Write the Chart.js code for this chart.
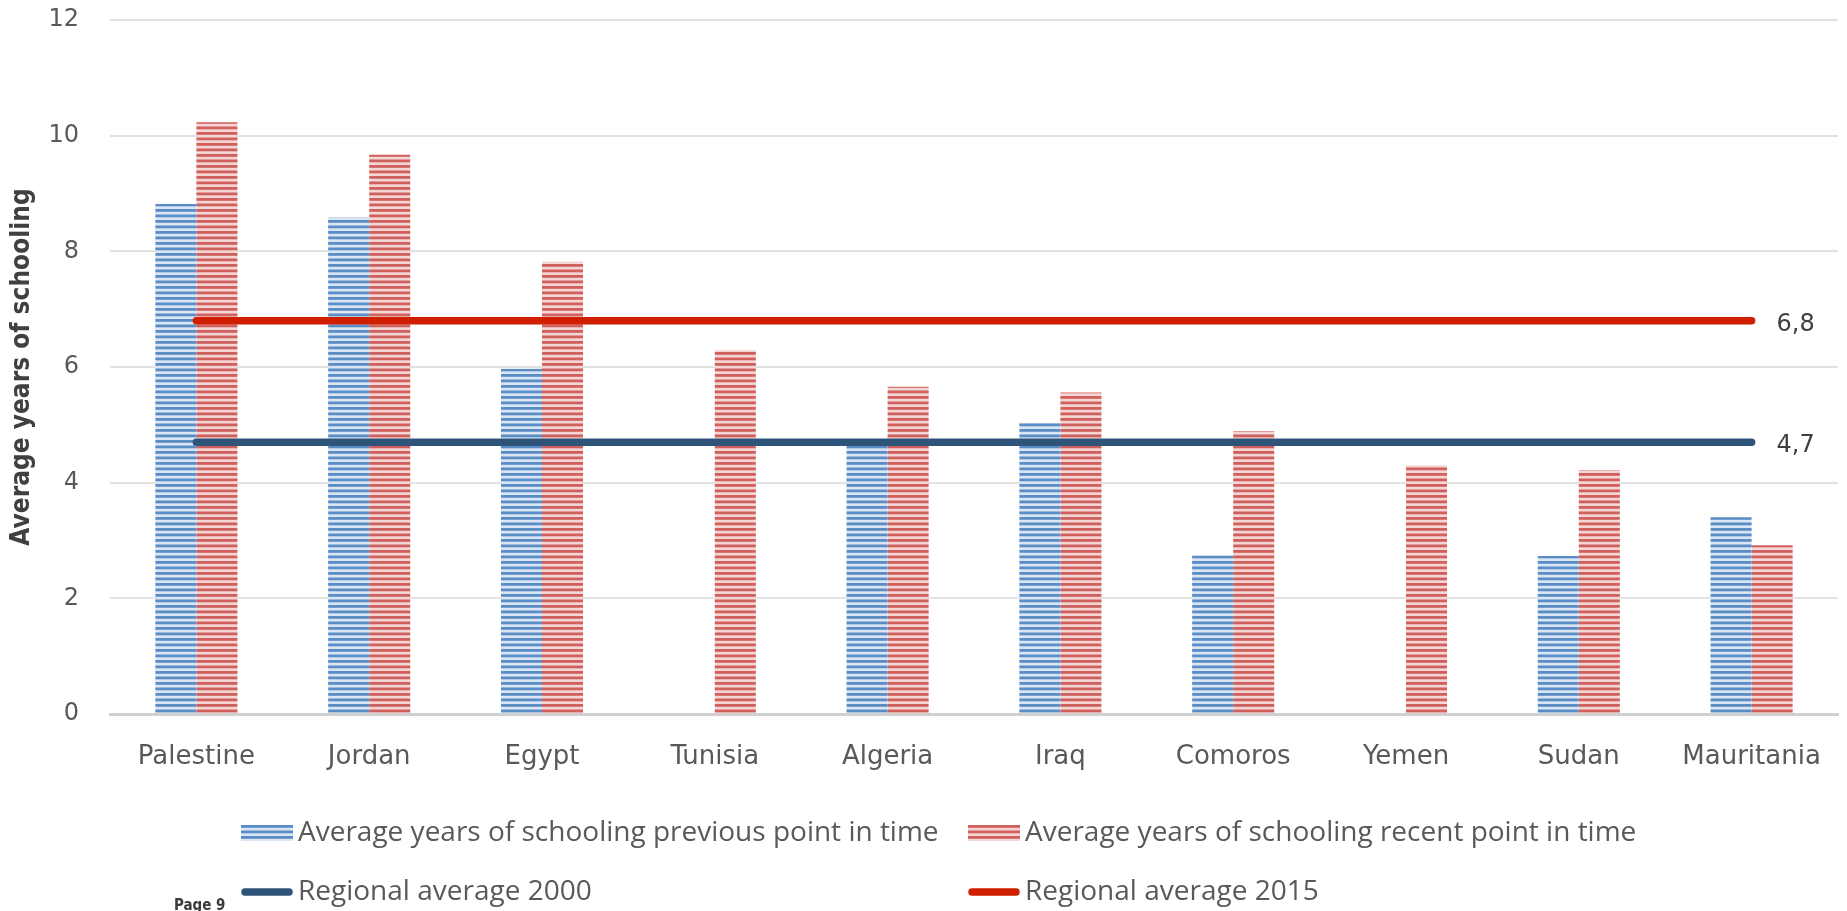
<!DOCTYPE html>
<html>
<head>
<meta charset="utf-8">
<script src="https://cdn.jsdelivr.net/npm/chart.js@4.4.1/dist/chart.umd.min.js"></script>
<style>
  html, body { margin: 0; padding: 0; background: #ffffff; overflow: hidden; }
  #wrap { width: 1847px; height: 911px; position: relative; }
</style>
</head>
<body>
<div id="wrap"><canvas id="chart" width="1847" height="911"></canvas></div>
<script>
// Average years of schooling, by country
const countries = ['Palestine', 'Jordan', 'Egypt', 'Tunisia', 'Algeria', 'Iraq', 'Comoros', 'Yemen', 'Sudan', 'Mauritania'];
const schoolingPrevious = [8.82, 8.59, 5.97, null, 4.74, 5.03, 2.74, null, 2.73, 3.40];
const schoolingRecent   = [10.23, 9.67, 7.82, 6.29, 5.66, 5.56, 4.89, 4.30, 4.22, 2.92];
const regionalAverage2000 = [4.7, 4.7, 4.7, 4.7, 4.7, 4.7, 4.7, 4.7, 4.7, 4.7];
const regionalAverage2015 = [6.8, 6.8, 6.8, 6.8, 6.8, 6.8, 6.8, 6.8, 6.8, 6.8];
const yTickValues = [0, 2, 4, 6, 8, 10, 12];

const seriesNames = [
  'Average years of schooling previous point in time',
  'Average years of schooling recent point in time',
  'Regional average 2000',
  'Regional average 2015'
];

const canvas = document.getElementById('chart');
const ctx = canvas.getContext('2d');

// narrow horizontal stripe fill used by the bars
function stripePattern(dark, light) {
  const tile = document.createElement('canvas');
  tile.width = 4; tile.height = 11;
  const g = tile.getContext('2d');
  g.fillStyle = light;
  g.fillRect(0, 0, 4, 11);
  g.fillStyle = dark;
  g.fillRect(0, 0, 4, 2.8);
  g.fillRect(0, 5.5, 4, 2.8);
  return ctx.createPattern(tile, 'repeat');
}
const bluePattern = stripePattern('#5a8dc6', '#dae6f3');
const redPattern = stripePattern('#cf605d', '#f4d6d4');

const lineBlue = '#2f5479';
const lineRed = '#cf1f00';

const TEXT_FONT = "'DejaVu Sans', sans-serif";
const LEGEND_FONT = "'Open Sans', Lato, sans-serif";
const NARROW_BOLD = "'Liberation Sans Narrow', 'DejaVu Sans Condensed', sans-serif";

// legend laid out as a two-column grid below the plot
const legendPlugin = {
  id: 'gridLegend',
  afterDraw(chart) {
    const c = chart.ctx;
    const cols = [241, 968];
    const rows = [833, 892];
    chart.data.datasets.forEach((ds, i) => {
      const x = cols[i % 2];
      const y = rows[Math.floor(i / 2)];
      c.save();
      if (ds.type === 'line') {
        c.strokeStyle = ds.borderColor;
        c.lineWidth = 7.5;
        c.lineCap = 'round';
        c.beginPath();
        c.moveTo(x + 4, y);
        c.lineTo(x + 48, y);
        c.stroke();
      } else {
        c.fillStyle = ds.backgroundColor;
        c.fillRect(x, y - 8, 52, 16);
      }
      c.fillStyle = '#595959';
      c.font = '28px ' + LEGEND_FONT;
      c.textAlign = 'left';
      c.textBaseline = 'middle';
      c.fillText(ds.label, x + 57, y);
      c.restore();
    });
    // page marker in the lower left corner
    c.save();
    c.fillStyle = '#3a3a3a';
    c.font = 'bold 15px ' + NARROW_BOLD;
    c.textAlign = 'left';
    c.textBaseline = 'alphabetic';
    c.fillText('Page 9', 174, 910);
    c.restore();
  }
};

// value label at the end of each regional average line
const endLabelPlugin = {
  id: 'endLabels',
  afterDatasetsDraw(chart) {
    const c = chart.ctx;
    chart.data.datasets.forEach((ds, i) => {
      if (ds.type !== 'line') return;
      const meta = chart.getDatasetMeta(i);
      const last = meta.data[meta.data.length - 1];
      const v = ds.data[ds.data.length - 1];
      c.save();
      c.fillStyle = '#404040';
      c.font = '24px ' + TEXT_FONT;
      c.textAlign = 'left';
      c.textBaseline = 'middle';
      c.fillText(v.toFixed(1).replace('.', ','), last.x + 25, last.y + 4);
      c.restore();
    });
  }
};

new Chart(ctx, {
  type: 'bar',
  data: {
    labels: countries,
    datasets: [
      {
        type: 'bar',
        label: seriesNames[0],
        data: schoolingPrevious,
        backgroundColor: bluePattern,
        borderWidth: 0,
        categoryPercentage: 0.475,
        barPercentage: 1.0,
        order: 2
      },
      {
        type: 'bar',
        label: seriesNames[1],
        data: schoolingRecent,
        backgroundColor: redPattern,
        borderWidth: 0,
        categoryPercentage: 0.475,
        barPercentage: 1.0,
        order: 2
      },
      {
        type: 'line',
        label: seriesNames[2],
        data: regionalAverage2000,
        borderColor: lineBlue,
        backgroundColor: lineBlue,
        borderWidth: 7.5,
        borderCapStyle: 'round',
        pointRadius: 0,
        fill: false,
        order: 1
      },
      {
        type: 'line',
        label: seriesNames[3],
        data: regionalAverage2015,
        borderColor: lineRed,
        backgroundColor: lineRed,
        borderWidth: 7.5,
        borderCapStyle: 'round',
        pointRadius: 0,
        fill: false,
        order: 0
      }
    ]
  },
  options: {
    responsive: false,
    animation: false,
    layout: { padding: { top: 20, left: 0, right: 9, bottom: 120 } },
    plugins: {
      legend: { display: false },
      tooltip: { enabled: false },
      title: { display: false }
    },
    scales: {
      x: {
        grid: { display: false, drawTicks: false },
        border: { display: true, color: '#d0d0d0', width: 3 },
        ticks: {
          color: '#595959',
          font: { family: TEXT_FONT, size: 26 },
          padding: 28,
          maxRotation: 0,
          autoSkip: false
        },
        afterFit(scale) {
          scale.height = 77;
          scale.paddingLeft = 0;
          scale.paddingRight = 0;
        }
      },
      y: {
        min: 0,
        max: 12,
        afterBuildTicks(scale) { scale.ticks = yTickValues.map(v => ({ value: v })); },
        grid: {
          color: (c) => (c.tick && c.tick.value === 0) ? 'rgba(0,0,0,0)' : '#e2e2e2',
          lineWidth: 2,
          drawTicks: false
        },
        border: { display: false },
        ticks: {
          color: '#595959',
          font: { family: TEXT_FONT, size: 24 },
          padding: 31
        },
        title: {
          display: true,
          text: 'Average years of schooling',
          color: '#404040',
          font: { family: NARROW_BOLD, size: 26, weight: 'bold' },
          padding: { top: 7, bottom: 0 }
        },
        afterFit(scale) {
          scale.width = 110;
          scale.paddingTop = 0;
          scale.paddingBottom = 0;
        }
      }
    }
  },
  plugins: [endLabelPlugin, legendPlugin]
});
</script>
</body>
</html>
